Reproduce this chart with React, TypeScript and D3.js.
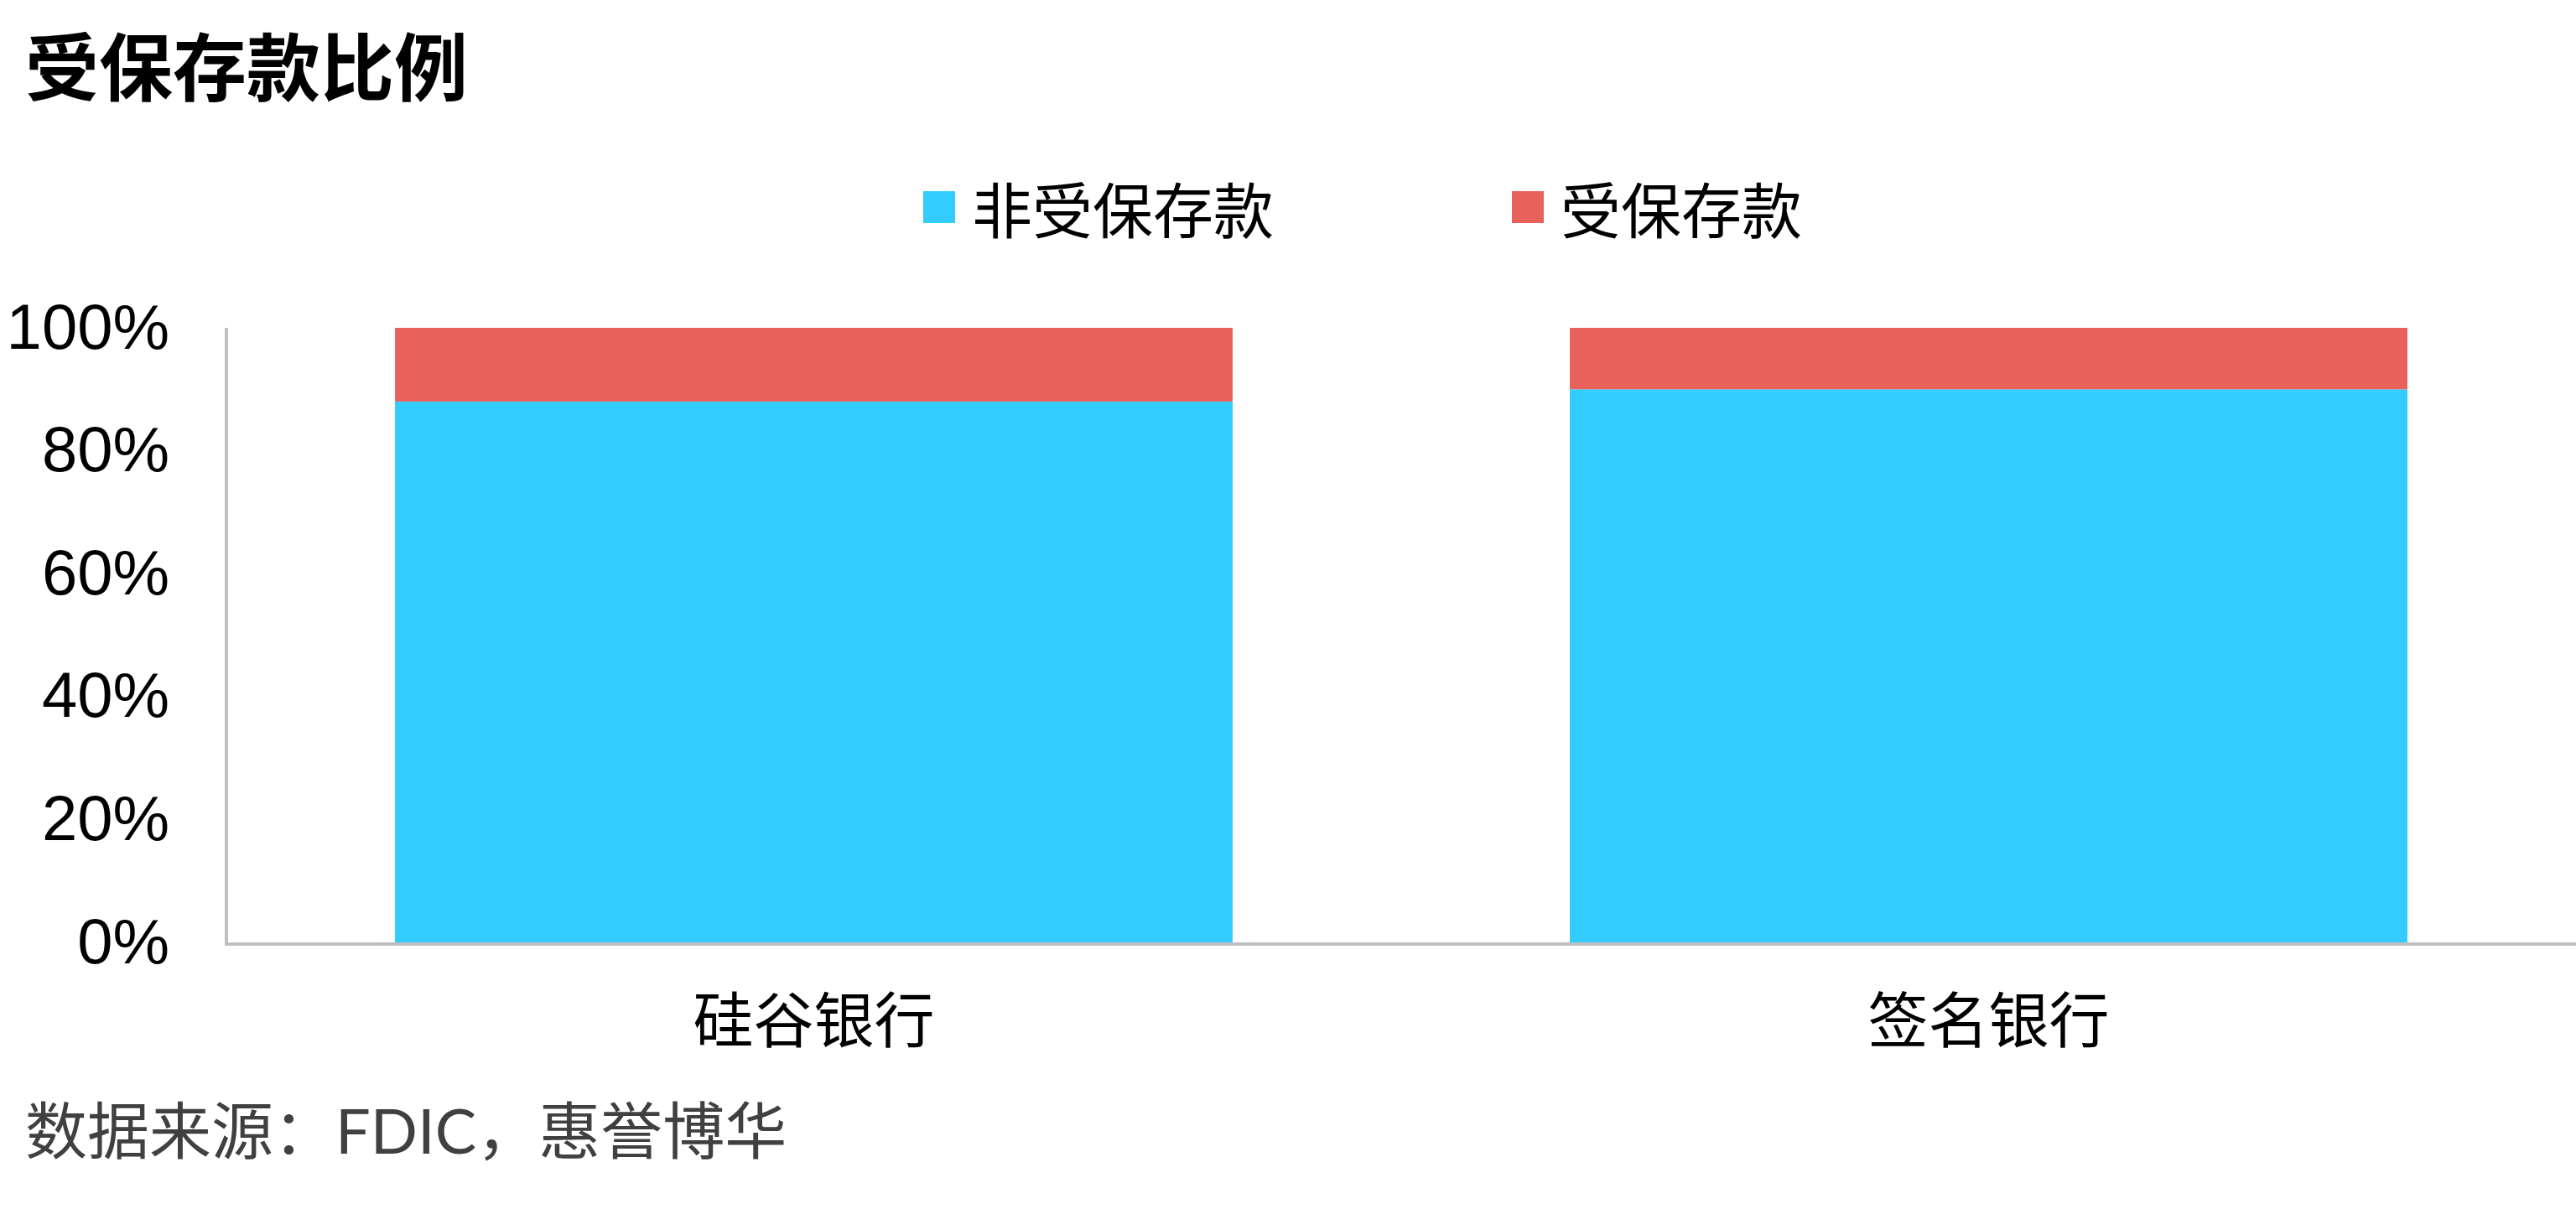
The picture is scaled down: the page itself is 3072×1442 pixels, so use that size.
import React, { useEffect, useRef } from 'react';
import * as d3 from 'd3';

const categories = ['硅谷银行', '签名银行'];
const seriesNames = ['非受保存款', '受保存款'];
const uninsured = [88, 90];
const insured = [12, 10];
const yTicks = [0, 20, 40, 60, 80, 100];
const colors = ['#33CCFF', '#E8615B'];

const W = 3072;
const H = 1442;
const CJK = '"Noto Sans CJK SC", "Noto Sans", sans-serif';

const App: React.FC = () => {
  const svgRef = useRef<SVGSVGElement>(null);

  useEffect(() => {
    if (!svgRef.current) return;
    const svg = d3.select(svgRef.current);
    svg.selectAll('*').remove();

    const plot = { left: 270, right: 3072, top: 391, bottom: 1124 };

    const x = d3.scaleBand<string>()
      .domain(categories)
      .range([plot.left, plot.right])
      .paddingInner(0.287)
      .paddingOuter(0.1435);
    const y = d3.scaleLinear().domain([0, 100]).range([plot.bottom, plot.top]);

    const rows = categories.map((c, i) => ({ cat: c, a: uninsured[i], b: insured[i] }));
    const stack = d3.stack<any>().keys(['a', 'b']);
    const layers = stack(rows);

    // title
    svg.append('text')
      .attr('x', 30).attr('y', 74)
      .attr('dominant-baseline', 'central')
      .attr('font-family', CJK).attr('font-weight', 'bold')
      .attr('font-size', 88).attr('fill', '#000')
      .text('受保存款比例');

    // legend
    const legend = svg.append('g');
    seriesNames.forEach((name, i) => {
      const lx = 1101 + i * 702;
      legend.append('rect')
        .attr('x', lx).attr('y', 228).attr('width', 38).attr('height', 38)
        .attr('fill', colors[i]);
      legend.append('text')
        .attr('x', lx + 58).attr('y', 246)
        .attr('dominant-baseline', 'central')
        .attr('font-family', CJK).attr('font-size', 72).attr('fill', '#000')
        .text(name);
    });

    // bars
    layers.forEach((layer, li) => {
      svg.append('g').selectAll('rect')
        .data(layer)
        .enter()
        .append('rect')
        .attr('x', d => x(d.data.cat)!)
        .attr('width', x.bandwidth())
        .attr('y', d => y(d[1]))
        .attr('height', d => y(d[0]) - y(d[1]))
        .attr('fill', colors[li]);
    });

    // axes lines
    svg.append('line')
      .attr('x1', 270).attr('x2', 270)
      .attr('y1', plot.top).attr('y2', plot.bottom + 4)
      .attr('stroke', '#BFBFBF').attr('stroke-width', 4);
    svg.append('line')
      .attr('x1', 268).attr('x2', W)
      .attr('y1', plot.bottom + 2).attr('y2', plot.bottom + 2)
      .attr('stroke', '#BFBFBF').attr('stroke-width', 4);

    // y tick labels
    svg.append('g').selectAll('text')
      .data(yTicks)
      .enter()
      .append('text')
      .attr('x', 202)
      .attr('y', d => y(d) - 2)
      .attr('text-anchor', 'end')
      .attr('dominant-baseline', 'central')
      .attr('font-family', '"Liberation Sans", Arial, sans-serif')
      .attr('font-size', 76).attr('fill', '#000')
      .text(d => `${d}%`);

    // x labels
    svg.append('g').selectAll('text')
      .data(categories)
      .enter()
      .append('text')
      .attr('x', d => x(d)! + x.bandwidth() / 2)
      .attr('y', 1211)
      .attr('text-anchor', 'middle')
      .attr('dominant-baseline', 'central')
      .attr('font-family', CJK).attr('font-size', 72).attr('fill', '#000')
      .text(d => d);

    // source
    svg.append('text')
      .attr('x', 30).attr('y', 1347)
      .attr('dominant-baseline', 'central')
      .attr('font-family', `Lato, ${CJK}`).attr('font-size', 74).attr('fill', '#404040')
      .text('数据来源：FDIC，惠誉博华');
  }, []);

  return (
    <div style={{ position: 'absolute', left: 0, top: 0 }}>
      <svg ref={svgRef} width={W} height={H} style={{ display: 'block', background: '#fff' }} />
    </div>
  );
};

export default App;
